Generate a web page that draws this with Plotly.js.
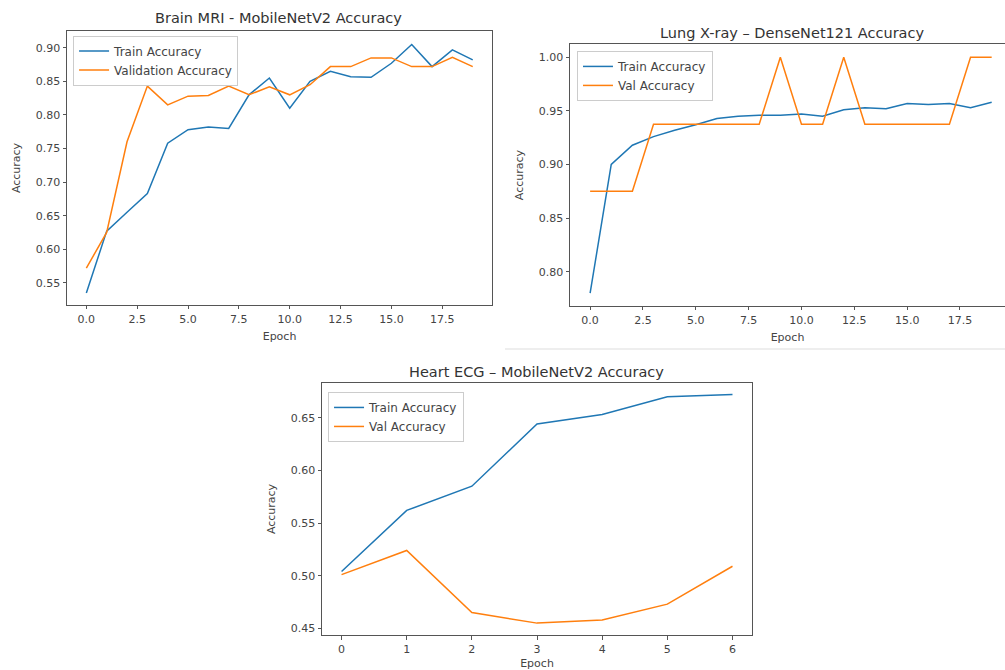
<!DOCTYPE html>
<html>
<head>
<meta charset="utf-8">
<script src="https://cdn.plot.ly/plotly-3.0.1.min.js"></script>
<style>html,body{margin:0;padding:0;background:#fff;}#chart{width:1005px;height:670px;}</style>
</head>
<body>
<div id="chart"></div>
<script>
// Brain MRI - MobileNetV2
const brainEpochs = [0,1,2,3,4,5,6,7,8,9,10,11,12,13,14,15,16,17,18,19];
const brainTrain = [0.535,0.627,0.655,0.683,0.758,0.778,0.782,0.780,0.830,0.855,0.810,0.850,0.865,0.857,0.856,0.877,0.905,0.872,0.897,0.882];
const brainVal   = [0.572,0.625,0.760,0.843,0.815,0.828,0.829,0.843,0.830,0.842,0.830,0.845,0.872,0.872,0.885,0.885,0.872,0.872,0.886,0.872];

// Lung X-ray - DenseNet121
const lungEpochs = [0,1,2,3,4,5,6,7,8,9,10,11,12,13,14,15,16,17,18,19];
const lungTrain = [0.780,0.900,0.918,0.926,0.932,0.937,0.943,0.945,0.946,0.946,0.947,0.945,0.951,0.953,0.952,0.957,0.956,0.957,0.953,0.958];
const lungVal   = [0.875,0.875,0.875,0.9375,0.9375,0.9375,0.9375,0.9375,0.9375,1.0,0.9375,0.9375,1.0,0.9375,0.9375,0.9375,0.9375,0.9375,1.0,1.0];

// Heart ECG - MobileNetV2
const ecgEpochs = [0,1,2,3,4,5,6];
const ecgTrain = [0.504,0.562,0.585,0.644,0.653,0.670,0.672];
const ecgVal   = [0.501,0.524,0.465,0.455,0.458,0.473,0.509];

const titles = ["Brain MRI - MobileNetV2 Accuracy","Lung X-ray \u2013 DenseNet121 Accuracy","Heart ECG \u2013 MobileNetV2 Accuracy"];

const BLUE = '#1f77b4', ORANGE = '#ff7f0e';
const FONT = 'DejaVu Sans, sans-serif';
const tickFont = {family: FONT, size: 11, color: '#444'};

const traces = [
  {x: brainEpochs, y: brainTrain, name: 'Train Accuracy', mode: 'lines', line: {color: BLUE, width: 1.5}, xaxis: 'x', yaxis: 'y', legend: 'legend'},
  {x: brainEpochs, y: brainVal, name: 'Validation Accuracy', mode: 'lines', line: {color: ORANGE, width: 1.5}, xaxis: 'x', yaxis: 'y', legend: 'legend'},
  {x: lungEpochs, y: lungTrain, name: 'Train Accuracy', mode: 'lines', line: {color: BLUE, width: 1.5}, xaxis: 'x2', yaxis: 'y2', legend: 'legend2'},
  {x: lungEpochs, y: lungVal, name: 'Val Accuracy', mode: 'lines', line: {color: ORANGE, width: 1.5}, xaxis: 'x2', yaxis: 'y2', legend: 'legend2'},
  {x: ecgEpochs, y: ecgTrain, name: 'Train Accuracy', mode: 'lines', line: {color: BLUE, width: 1.5}, xaxis: 'x3', yaxis: 'y3', legend: 'legend3'},
  {x: ecgEpochs, y: ecgVal, name: 'Val Accuracy', mode: 'lines', line: {color: ORANGE, width: 1.5}, xaxis: 'x3', yaxis: 'y3', legend: 'legend3'}
];

function ax(extra) {
  return Object.assign({
    showline: true, mirror: true, linecolor: '#555', linewidth: 1,
    ticks: 'outside', ticklen: 3.5, tickwidth: 1, tickcolor: '#555',
    showgrid: false, zeroline: false, tickfont: tickFont
  }, extra);
}
function axTitle(t, standoff) {
  return {text: t, font: {family: FONT, size: 11, color: '#444'}, standoff: standoff};
}
function legendCfg(x0, y0) {
  return {x: x0, y: y0, xanchor: 'left', yanchor: 'top', bgcolor: 'rgba(255,255,255,0.8)',
    bordercolor: '#ccc', borderwidth: 1, font: {family: FONT, size: 12, color: '#444'},
    tracegroupgap: 0, itemwidth: 30};
}

const layout = {
  width: 1005, height: 670,
  margin: {l: 0, r: 0, t: 0, b: 0},
  paper_bgcolor: '#fff', plot_bgcolor: '#fff',
  font: {family: FONT, color: '#444'},
  xaxis: ax({domain: [0.0667, 0.4896], range: [-0.95, 19.95], tick0: 0, dtick: 2.5, tickformat: '.1f', anchor: 'y', title: axTitle('Epoch', 7)}),
  yaxis: ax({domain: [0.5448, 0.9537], range: [0.517, 0.925], tick0: 0, dtick: 0.05, tickformat: '.2f', anchor: 'x', title: axTitle('Accuracy', 12)}),
  xaxis2: ax({domain: [0.5672, 1.0], range: [-0.95, 19.63], tick0: 0, dtick: 2.5, tickformat: '.1f', anchor: 'y2', title: axTitle('Epoch', 7)}),
  yaxis2: ax({domain: [0.5433, 0.9343], range: [0.768, 1.0124], tick0: 0, dtick: 0.05, tickformat: '.2f', anchor: 'x2', title: axTitle('Accuracy', 12)}),
  xaxis3: ax({domain: [0.3204, 0.7483], range: [-0.3, 6.3], tick0: 0, dtick: 1, tickformat: 'd', anchor: 'y3', title: axTitle('Epoch', 7)}),
  yaxis3: ax({domain: [0.0522, 0.4284], range: [0.4437, 0.683], tick0: 0, dtick: 0.05, tickformat: '.2f', anchor: 'x3', title: axTitle('Accuracy', 12)}),
  showlegend: true,
  legend: legendCfg(0.0727, 0.947),
  legend2: legendCfg(0.5741, 0.924),
  legend3: legendCfg(0.3264, 0.415),
  annotations: [
    {text: titles[0], x: 0.277, y: 1 - 18/670, xref: 'paper', yref: 'paper', showarrow: false, xanchor: 'center', yanchor: 'middle', font: {family: FONT, size: 14.5, color: '#333'}},
    {text: titles[1], x: 0.788, y: 1 - 33/670, xref: 'paper', yref: 'paper', showarrow: false, xanchor: 'center', yanchor: 'middle', font: {family: FONT, size: 14.5, color: '#333'}},
    {text: titles[2], x: 0.534, y: 1 - 372/670, xref: 'paper', yref: 'paper', showarrow: false, xanchor: 'center', yanchor: 'middle', font: {family: FONT, size: 14.5, color: '#333'}}
  ],
  shapes: [
    {type: 'line', xref: 'paper', yref: 'paper', x0: 505/1005, x1: 1, y0: 1 - 349/670, y1: 1 - 349/670, line: {color: '#ddd', width: 1}}
  ]
};

Plotly.newPlot('chart', traces, layout, {displayModeBar: false, staticPlot: true});
</script>
</body>
</html>
